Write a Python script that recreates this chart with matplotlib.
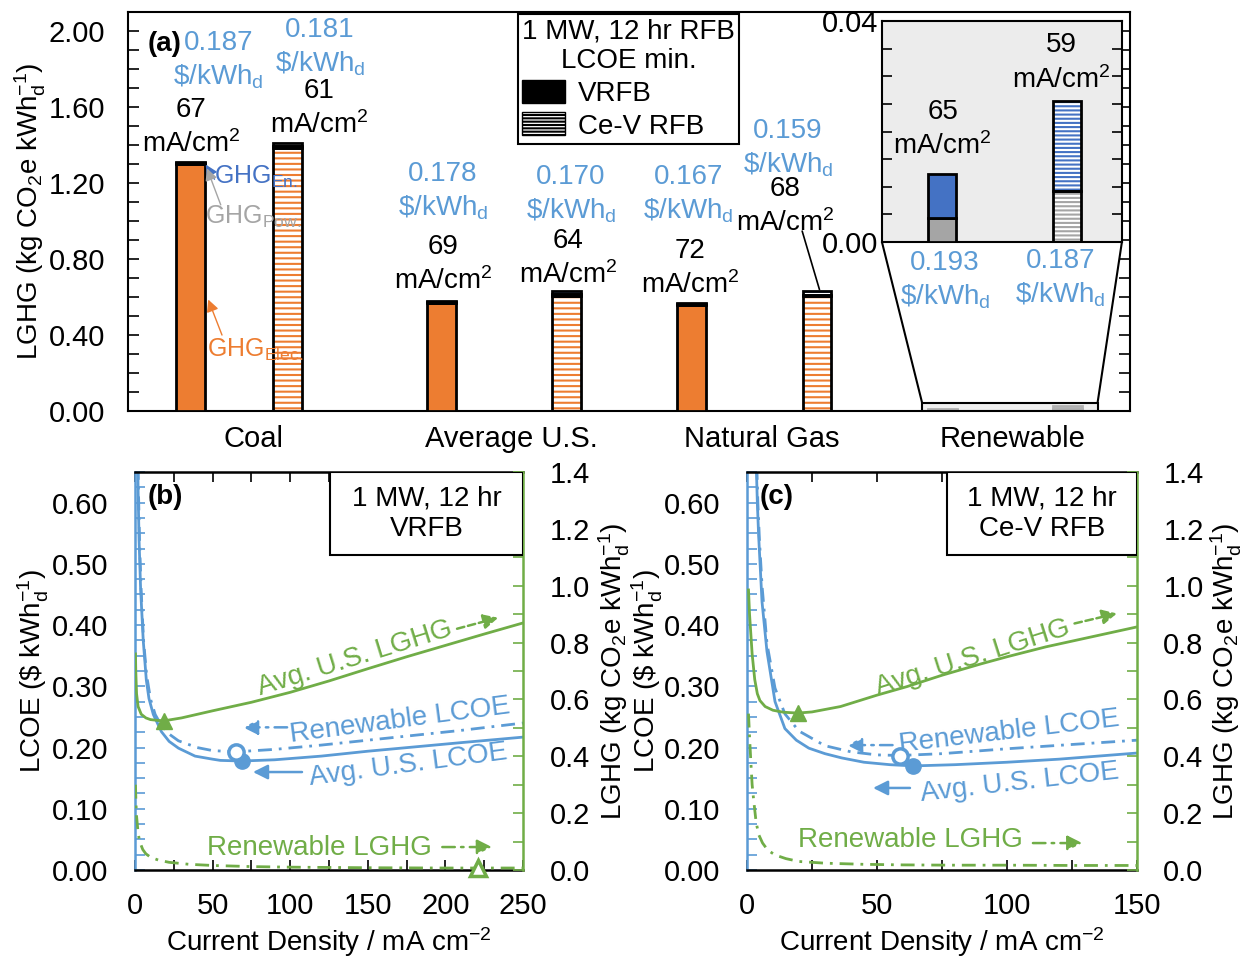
import matplotlib.pyplot as plt
from matplotlib.patches import Patch, Rectangle, ConnectionPatch
from matplotlib.ticker import MultipleLocator, FormatStrFormatter, FixedLocator

plt.rcParams['font.family'] = 'Liberation Sans'
plt.rcParams['mathtext.fontset'] = 'custom'
plt.rcParams['mathtext.rm'] = 'Liberation Sans'
plt.rcParams['mathtext.it'] = 'Liberation Sans:italic'
plt.rcParams['mathtext.bf'] = 'Liberation Sans:bold'
plt.rcParams['font.size'] = 20
plt.rcParams['xtick.labelsize'] = 21
plt.rcParams['ytick.labelsize'] = 21
plt.rcParams['hatch.linewidth'] = 1.5

BLUE = '#5B9BD5'
GREEN = '#70AD47'
ORANGE = '#ED7D31'
DBLUE = '#4472C4'
GRAY = '#A5A5A5'

# ---- (a) LGHG at the LCOE minimum, by grid source ----
sources = ['Coal', 'Average U.S.', 'Natural Gas', 'Renewable']
vrfb_elec = [1.300, 0.568, 0.558, 0.0]
vrfb_pow = [0.0045, 0.0045, 0.0045, 0.0044]
vrfb_en = [0.0080, 0.0080, 0.0080, 0.0080]
cev_elec = [1.385, 0.606, 0.604, 0.0]
cev_pow = [0.0093, 0.0093, 0.0093, 0.0093]
cev_en = [0.0162, 0.0162, 0.0162, 0.0162]
vrfb_lcoe = [0.187, 0.178, 0.167, 0.193]
cev_lcoe = [0.181, 0.170, 0.159, 0.187]
vrfb_cd = [67, 69, 72, 65]
cev_cd = [61, 64, 68, 59]

# ---- (b) VRFB vs current density ----
b_x_avg_lcoe = [1.8, 2.0, 2.6, 3.6, 5.3, 7.3, 9, 11.8, 17, 22, 28, 38.7, 50, 55, 69, 90, 120, 150, 180, 210, 250]
b_avg_lcoe = [0.66, 0.62, 0.54, 0.46, 0.375, 0.31, 0.28, 0.254, 0.226, 0.21, 0.199, 0.186, 0.181, 0.179, 0.178, 0.180, 0.186, 0.194, 0.201, 0.208, 0.217]
b_x_ren_lcoe = [2.0, 2.3, 3.0, 4.0, 5.5, 7.5, 10, 13, 17, 22, 28, 40, 50, 65, 90, 120, 150, 180, 210, 250]
b_ren_lcoe = [0.66, 0.61, 0.53, 0.455, 0.375, 0.318, 0.279, 0.254, 0.236, 0.222, 0.211, 0.200, 0.195, 0.193, 0.197, 0.204, 0.212, 0.220, 0.228, 0.240]
b_x_avg_ghg = [0.3, 0.5, 1, 2, 4, 7, 10, 15, 19, 30, 50, 75, 100, 125, 150, 175, 200, 225, 250]
b_avg_ghg = [0.76, 0.70, 0.62, 0.575, 0.548, 0.535, 0.529, 0.526, 0.525, 0.535, 0.56, 0.59, 0.625, 0.665, 0.708, 0.75, 0.79, 0.83, 0.869]
b_x_ren_ghg = [0.3, 0.6, 1, 2, 3, 5, 7, 10, 15, 22, 35, 50, 75, 100, 150, 200, 250]
b_ren_ghg = [0.30, 0.24, 0.19, 0.13, 0.10, 0.072, 0.057, 0.045, 0.035, 0.027, 0.02, 0.016, 0.012, 0.010, 0.008, 0.007, 0.007]
b_min_ghg_avg = (19, 0.525)
b_min_ghg_ren = (221, 0.007)

# ---- (c) Ce-V RFB vs current density ----
c_x_avg_lcoe = [3.6, 4.0, 4.5, 5.8, 7.7, 10.8, 14.6, 19, 23.8, 30, 36.5, 45, 55, 64, 80, 100, 120, 150]
c_avg_lcoe = [0.66, 0.60, 0.546, 0.438, 0.357, 0.275, 0.231, 0.212, 0.199, 0.19, 0.183, 0.176, 0.172, 0.170, 0.172, 0.176, 0.181, 0.191]
c_x_ren_lcoe = [3.8, 4.2, 4.8, 5.8, 7.7, 10.8, 14.6, 20, 30, 40, 50, 59, 75, 100, 125, 150]
c_ren_lcoe = [0.66, 0.60, 0.54, 0.465, 0.37, 0.297, 0.255, 0.227, 0.203, 0.193, 0.188, 0.187, 0.190, 0.198, 0.205, 0.212]
c_x_avg_ghg = [0.6, 1, 2, 3, 4, 5, 7, 10, 14, 19.6, 25, 36, 50, 61.5, 75, 90, 100, 115, 130, 150]
c_avg_ghg = [0.985, 0.90, 0.76, 0.67, 0.62, 0.596, 0.575, 0.562, 0.555, 0.552, 0.556, 0.575, 0.615, 0.645, 0.685, 0.725, 0.75, 0.785, 0.815, 0.855]
c_x_ren_ghg = [0.6, 1, 1.5, 2, 2.6, 3.5, 4.5, 6, 8, 10.8, 15, 20, 30, 45, 60, 80, 100, 125, 150]
c_ren_ghg = [0.55, 0.47, 0.38, 0.30, 0.245, 0.17, 0.125, 0.095, 0.07, 0.053, 0.04, 0.03, 0.024, 0.02, 0.018, 0.017, 0.017, 0.016, 0.016]
c_min_ghg_avg = (19.6, 0.552)

DASHDOT = (0, (5, 2.5, 1, 2.5))

fig = plt.figure(figsize=(12.42, 9.57), dpi=100)


def draw_stack(ax, x, parts, colors, hatch=None, width=0.115):
    bottom = [0.0] * len(x)
    for vals, col in zip(parts, colors):
        if hatch:
            ax.bar(x, vals, width, bottom=bottom, color='white', edgecolor=col,
                   hatch=hatch, linewidth=0, zorder=2)
            ax.bar(x, vals, width, bottom=bottom, fill=False, edgecolor='black',
                   linewidth=2, zorder=3)
        else:
            ax.bar(x, vals, width, bottom=bottom, color=col, edgecolor='black',
                   linewidth=2, zorder=3)
        bottom = [b + v for b, v in zip(bottom, vals)]
    return bottom


# ================= panel (a) =================
ax_a = fig.add_axes([0.1031, 0.5705, 0.8068, 0.4169])
idx = range(len(sources))
vrfb_x = [i + 0.25 for i in idx]
cev_x = [i + 0.75 for i in idx]
cev_x[0] = 0.635

vrfb_tot = draw_stack(ax_a, vrfb_x, [vrfb_elec, vrfb_pow, vrfb_en], [ORANGE, GRAY, DBLUE])
cev_tot = draw_stack(ax_a, cev_x, [cev_elec, cev_pow, cev_en], [ORANGE, GRAY, DBLUE], hatch='---')

ax_a.set_xlim(0, 4)
ax_a.set_ylim(0, 2.1)
ax_a.set_xticks([0.5, 1.53, 2.53, 3.53], sources)
ax_a.tick_params(axis='x', length=0, pad=10)
ax_a.yaxis.set_major_locator(MultipleLocator(0.4))
ax_a.yaxis.set_minor_locator(MultipleLocator(0.1))
ax_a.yaxis.set_major_formatter(FormatStrFormatter('%.2f'))
ax_a.tick_params(axis='y', which='both', direction='in', right=True, length=8, width=1.2, pad=16.5)
for s in ax_a.spines.values():
    s.set_linewidth(1.5)
ax_a.set_ylabel(r'LGHG (kg CO$_\mathregular{2}$e kWh$_\mathregular{d}^\mathregular{-1}$)')
ax_a.yaxis.set_label_coords(-0.08, 0.5)
ax_a.text(0.036, 0.92, '(a)', transform=ax_a.transAxes, fontweight='bold', ha='center', va='center')

# LCOE / current density notes above each bar
lcoe_pos_v = [(0.36, 1.937), (1.257, 1.249), (2.236, 1.233), (3.261, 0.778)]
lcoe_pos_c = [(0.766, 2.005), (1.768, 1.233), (2.635, 1.476), (3.721, 0.788)]
cd_pos_v = [(0.251, 1.582), (1.257, 0.862), (2.244, 0.841)]
cd_pos_c = [(0.762, 1.683), (1.756, 0.894), (2.623, 1.169)]
step = 0.178
for vals, cds, lpos, cpos in [(vrfb_lcoe, vrfb_cd, lcoe_pos_v, cd_pos_v),
                              (cev_lcoe, cev_cd, lcoe_pos_c, cd_pos_c)]:
    for i in idx:
        x, y = lpos[i]
        ax_a.text(x, y, f'{vals[i]:.3f}', color=BLUE, ha='center', va='center')
        ax_a.text(x, y - step, r'\$/kWh$_\mathregular{d}$', color=BLUE, ha='center', va='center')
    for i in range(3):
        x, y = cpos[i]
        ax_a.text(x, y, f'{cds[i]}', ha='center', va='center')
        ax_a.text(x, y - step, r'mA/cm$^\mathregular{2}$', ha='center', va='center')

ax_a.annotate('', xy=(cev_x[2] + 0.01, cev_tot[2] + 0.01), xytext=(2.691, 0.947),
              arrowprops=dict(arrowstyle='-', color='black', lw=1.2, shrinkA=0, shrinkB=0))

# component call-outs on the coal VRFB bar
top = vrfb_tot[0]
ax_a.text(0.345, 1.233, r'GHG$_\mathregular{En.}$', color=DBLUE, fontsize=18, va='center')
ax_a.annotate('', xy=(vrfb_x[0] + 0.06, top - 0.015), xytext=(0.345, 1.22),
              arrowprops=dict(arrowstyle='-|>', color=DBLUE, lw=1, mutation_scale=18, shrinkA=0, shrinkB=0))
ax_a.text(0.307, 1.021, r'GHG$_\mathregular{Pow.}$', color=GRAY, fontsize=18, va='center')
ax_a.annotate('', xy=(vrfb_x[0] + 0.065, top - 0.035), xytext=(0.37, 1.085),
              arrowprops=dict(arrowstyle='-|>', color=GRAY, lw=1, mutation_scale=18, shrinkA=0, shrinkB=0))
ax_a.text(0.315, 0.323, r'GHG$_\mathregular{Elec.}$', color=ORANGE, fontsize=18, va='center')
ax_a.annotate('', xy=(vrfb_x[0] + 0.07, 0.587), xytext=(0.375, 0.40),
              arrowprops=dict(arrowstyle='-|>', color=ORANGE, lw=1, mutation_scale=18, shrinkA=0, shrinkB=0))

handles = [Patch(facecolor='black', edgecolor='black'),
           Patch(facecolor='white', edgecolor='black', hatch='-----')]
leg = ax_a.legend(handles, ['VRFB', 'Ce-V RFB'], title='1 MW, 12 hr RFB\nLCOE min.',
                  loc='upper left', bbox_to_anchor=(0.389, 0.995), fancybox=False,
                  edgecolor='black', framealpha=1, fontsize=20, title_fontsize=20,
                  borderpad=0.15, labelspacing=0.2, handlelength=1.55, handleheight=0.9,
                  handletextpad=0.45, borderaxespad=0, alignment='left')
leg.get_frame().set_linewidth(1.5)
leg.get_title().set_multialignment('center')

# zoom box + inset for the renewable bars
ax_a.add_patch(Rectangle((3.17, 0), 0.70, 0.042, facecolor=(0.925, 0.925, 0.925, 0.75),
                         edgecolor='black', lw=1.5, zorder=5))
axins = fig.add_axes([0.7101, 0.7471, 0.1932, 0.2309])
axins.set_facecolor('#ececec')
draw_stack(axins, vrfb_x, [vrfb_elec, vrfb_pow, vrfb_en], [ORANGE, GRAY, DBLUE])
draw_stack(axins, cev_x, [cev_elec, cev_pow, cev_en], [ORANGE, GRAY, DBLUE], hatch='----')
axins.set_xlim(3.01, 3.97)
axins.set_ylim(0, 0.04)
axins.set_xticks([])
axins.yaxis.set_major_locator(FixedLocator([0, 0.04]))
axins.yaxis.set_minor_locator(MultipleLocator(0.005))
axins.yaxis.set_major_formatter(FormatStrFormatter('%.2f'))
axins.tick_params(axis='y', which='both', direction='in', right=True, length=7, width=1.2, pad=3)
for s in axins.spines.values():
    s.set_linewidth(1.5)
axins.text(3.253, 0.0235, f'{vrfb_cd[3]}', ha='center', va='center')
axins.text(3.253, 0.0173, r'mA/cm$^\mathregular{2}$', ha='center', va='center')
axins.text(3.728, 0.0356, f'{cev_cd[3]}', ha='center', va='center')
axins.text(3.728, 0.0294, r'mA/cm$^\mathregular{2}$', ha='center', va='center')
for xa, xb in [(0, 3.17), (1, 3.87)]:
    fig.add_artist(ConnectionPatch(xyA=(xa, 0), coordsA=axins.transAxes, xyB=(xb, 0.042),
                                   coordsB=ax_a.transData, color='black', lw=1.5))


# ================= panels (b) and (c) =================
def curve_panel(rect, xmax, avg_lcoe, ren_lcoe, avg_ghg, ren_ghg, lcoe_min, ghg_min_avg,
                ghg_min_ren, box_text, box_left, tag, lab_left, lab_right):
    ax = fig.add_axes(rect)
    ax2 = ax.twinx()
    ax.plot(*avg_lcoe, color=BLUE, lw=2)
    ax.plot(*ren_lcoe, color=BLUE, lw=2, ls=DASHDOT)
    ax2.plot(*avg_ghg, color=GREEN, lw=2)
    ax2.plot(*ren_ghg, color=GREEN, lw=2, ls=DASHDOT)
    (xa, ya), (xr, yr) = lcoe_min
    ax.plot(xa, ya, 'o', color=BLUE, ms=11, zorder=5)
    ax.plot(xr, yr, 'o', mfc='white', mec=BLUE, mew=2.5, ms=11, zorder=5)
    ax2.plot(*ghg_min_avg, '^', color=GREEN, ms=12, zorder=5)
    if ghg_min_ren is not None:
        ax2.plot(*ghg_min_ren, '^', mfc='white', mec=GREEN, mew=2.5, ms=11, zorder=5, clip_on=False)

    ax.set_xlim(0, xmax)
    ax.set_ylim(0, 0.65)
    ax2.set_ylim(0, 1.4)
    ax.xaxis.set_major_locator(MultipleLocator(50))
    ax.xaxis.set_minor_locator(MultipleLocator(25))
    ax.yaxis.set_major_locator(MultipleLocator(0.1))
    ax.yaxis.set_minor_locator(MultipleLocator(0.025))
    ax.yaxis.set_major_formatter(FormatStrFormatter('%.2f'))
    ax2.yaxis.set_major_locator(MultipleLocator(0.2))
    ax2.yaxis.set_minor_locator(MultipleLocator(0.1))
    ax2.yaxis.set_major_formatter(FormatStrFormatter('%.1f'))
    ax.tick_params(axis='x', which='both', direction='in', top=True, length=7, width=1.2, pad=16)
    ax.tick_params(axis='y', which='both', direction='in', color=BLUE, length=7, width=1.2, pad=19)
    ax2.tick_params(axis='y', which='both', direction='in', color=GREEN, length=7, width=1.2, pad=19)
    for s in ('top', 'bottom'):
        ax.spines[s].set_linewidth(1.8)
    ax.spines['left'].set_color(BLUE)
    ax.spines['left'].set_linewidth(1.8)
    ax.spines['right'].set_visible(False)
    for s in ('top', 'bottom', 'left'):
        ax2.spines[s].set_visible(False)
    ax2.spines['right'].set_color(GREEN)
    ax2.spines['right'].set_linewidth(1.8)

    ax.set_ylabel(r'LCOE (\$ kWh$_\mathregular{d}^\mathregular{-1}$)')
    ax.yaxis.set_label_coords(lab_left, 0.5)
    ax2.set_ylabel(r'LGHG (kg CO$_\mathregular{2}$e kWh$_\mathregular{d}^\mathregular{-1}$)')
    ax2.yaxis.set_label_coords(lab_right, 0.5)
    ax.set_xlabel(r'Current Density / mA cm$^\mathregular{-2}$')
    ax.xaxis.set_label_coords(0.5, -0.138)

    ax.text(0.077, 0.937, tag, transform=ax.transAxes, fontweight='bold', ha='center', va='center')
    ax2.add_patch(Rectangle((box_left, 0.791), 1 - box_left, 0.209, transform=ax.transAxes,
                            facecolor='white', edgecolor='black', lw=1.5, zorder=6))
    ax2.text((1 + box_left) / 2, 0.894, box_text, transform=ax.transAxes, ha='center',
             va='center', linespacing=1.22, zorder=7)
    return ax, ax2


def arrow(ax, start, end, color, ls):
    ax.annotate('', xy=end, xytext=start,
                arrowprops=dict(arrowstyle='-|>', color=color, lw=1.8, linestyle=ls,
                                mutation_scale=22, shrinkA=0, shrinkB=0))


ax_b, ax_b2 = curve_panel([0.1087, 0.0909, 0.3124, 0.4159], 250,
                          (b_x_avg_lcoe, b_avg_lcoe), (b_x_ren_lcoe, b_ren_lcoe),
                          (b_x_avg_ghg, b_avg_ghg), (b_x_ren_ghg, b_ren_ghg),
                          ((69, vrfb_lcoe[1]), (65, vrfb_lcoe[3])), b_min_ghg_avg, b_min_ghg_ren,
                          '1 MW, 12 hr\nVRFB', 0.5026, '(b)', -0.217, 1.19)
ax_b.text(141.8, 0.3456, 'Avg. U.S. LGHG', color=GREEN, rotation=17.3, ha='center', va='center', rotation_mode='anchor')
arrow(ax_b, (207.5, 0.394), (234, 0.412), GREEN, (0, (3, 1.5)))
ax_b.text(170.7, 0.2445, 'Renewable LCOE', color=BLUE, rotation=7.5, ha='center', va='center', rotation_mode='anchor')
arrow(ax_b, (98, 0.233), (69.6, 0.233), BLUE, DASHDOT)
ax_b.text(176, 0.171, 'Avg. U.S. LCOE', color=BLUE, rotation=7.5, ha='center', va='center', rotation_mode='anchor')
arrow(ax_b, (107.6, 0.16), (76, 0.16), BLUE, '-')
ax_b.text(119, 0.036, 'Renewable LGHG', color=GREEN, ha='center', va='center')
arrow(ax_b, (198, 0.0375), (230, 0.0375), GREEN, DASHDOT)

ax_c, ax_c2 = curve_panel([0.6014, 0.0909, 0.3140, 0.4159], 150,
                          (c_x_avg_lcoe, c_avg_lcoe), (c_x_ren_lcoe, c_ren_lcoe),
                          (c_x_avg_ghg, c_avg_ghg), (c_x_ren_ghg, c_ren_ghg),
                          ((64, cev_lcoe[1]), (59, cev_lcoe[3])), c_min_ghg_avg, None,
                          '1 MW, 12 hr\nCe-V RFB', 0.513, '(c)', -0.21, 1.185)
ax_c.text(86.9, 0.3456, 'Avg. U.S. LGHG', color=GREEN, rotation=17.6, ha='center', va='center', rotation_mode='anchor')
arrow(ax_c, (126, 0.4026), (142.3, 0.419), GREEN, (0, (3, 1.5)))
ax_c.text(101, 0.225, 'Renewable LCOE', color=BLUE, rotation=6.8, ha='center', va='center', rotation_mode='anchor')
arrow(ax_c, (56, 0.204), (38.5, 0.204), BLUE, DASHDOT)
ax_c.text(105, 0.143, 'Avg. U.S. LCOE', color=BLUE, rotation=6.5, ha='center', va='center', rotation_mode='anchor')
arrow(ax_c, (62.7, 0.134), (48.5, 0.134), BLUE, '-')
ax_c.text(62.7, 0.049, 'Renewable LGHG', color=GREEN, ha='center', va='center')
arrow(ax_c, (110, 0.044), (129, 0.044), GREEN, DASHDOT)

fig.savefig('out.png', dpi=100)
